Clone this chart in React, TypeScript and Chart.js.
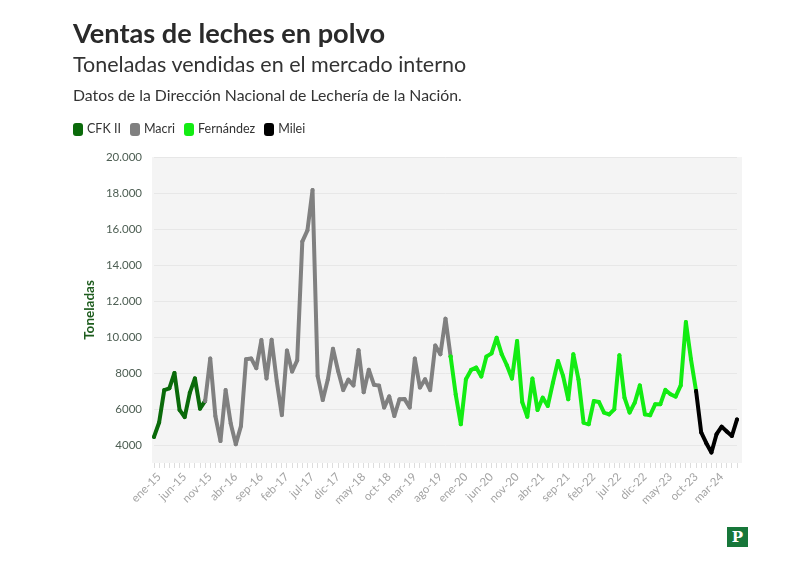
import React, { useEffect, useRef } from 'react';
import { Chart, registerables } from 'chart.js';
Chart.register(...registerables);

// ---- Datos ----
const MESES = ['ene', 'feb', 'mar', 'abr', 'may', 'jun', 'jul', 'ago', 'sep', 'oct', 'nov', 'dic'];
const ANIO_INICIO = 2015;
const N_MESES = 115; // ene-15 .. jul-24
const categorias: string[] = Array.from({ length: N_MESES }, (_, i) =>
  `${MESES[i % 12]}-${String((ANIO_INICIO + Math.floor(i / 12)) % 100)}`
);

// Toneladas vendidas por mes, por gestión
const cfkII = [4450, 5250, 7050, 7150, 8000, 5950, 5550, 6900, 7700, 6020, 6450]; // ene-15 .. nov-15
const macri = [
  8800, 5610, 4220, 7050, 5200, 4040, 5050, 8760, 8810, 8270, 9830, 7700,
  9850, 7550, 5660, 9250, 8080, 8700, 15300, 15920, 18170, 7830, 6500, 7650,
  9350, 8110, 7050, 7630, 7310, 9270, 6930, 8180, 7350, 7300, 6080, 6700,
  5610, 6540, 6550, 6080, 8800, 7190, 7650, 7050, 9530, 9040, 11020, 8920,
]; // dic-15 .. nov-19
const fernandez = [
  6800, 5150, 7650, 8170, 8300, 7800, 8910, 9090, 9960, 9040, 8430, 7690,
  9780, 6390, 5570, 7690, 5940, 6630, 6170, 7460, 8670, 7830, 6540, 9040,
  7650, 5240, 5150, 6440, 6390, 5800, 5700, 5980, 8980, 6630, 5800, 6350,
  7310, 5700, 5650, 6260, 6260, 7060, 6820, 6690, 7310, 10830, 8760, 7000,
]; // dic-19 .. nov-23
const milei = [4700, 4100, 3580, 4600, 5020, 4750, 4500, 5420]; // dic-23 .. jul-24

const gestiones = [
  { nombre: 'CFK II', color: '#0a6a0a', inicio: 0, valores: cfkII },
  { nombre: 'Macri', color: '#808080', inicio: 11, valores: macri },
  { nombre: 'Fernández', color: '#13ec13', inicio: 59, valores: fernandez },
  { nombre: 'Milei', color: '#000000', inicio: 107, valores: milei },
];

const Y_TICKS = [4000, 6000, 8000, 10000, 12000, 14000, 16000, 18000, 20000];

function construirSerie(idx: number): (number | null)[] {
  const g = gestiones[idx];
  const arr: (number | null)[] = new Array(N_MESES).fill(null);
  if (idx > 0) {
    const prev = gestiones[idx - 1];
    arr[g.inicio - 1] = prev.valores[prev.valores.length - 1];
  }
  g.valores.forEach((v, k) => (arr[g.inicio + k] = v));
  return arr;
}

function formatear(v: number): string {
  if (v >= 10000) {
    const s = String(v);
    return s.slice(0, s.length - 3) + '.' + s.slice(s.length - 3);
  }
  return String(v);
}

const fondo = {
  id: 'fondo',
  beforeDraw(chart: any) {
    const { ctx, chartArea } = chart;
    const { left, right, top, bottom } = chartArea;
    ctx.save();
    ctx.fillStyle = '#f4f4f4';
    ctx.fillRect(left - 2, top, right - left + 7, bottom - top);
    ctx.restore();
  },
};

const FONT = 'Lato, "Open Sans", sans-serif';

export default function App() {
  const ref = useRef<HTMLCanvasElement | null>(null);

  useEffect(() => {
    if (!ref.current) return;
    const chart = new Chart(ref.current, {
      type: 'line',
      data: {
        labels: categorias,
        datasets: gestiones.map((g, i) => ({
          label: g.nombre,
          data: construirSerie(i),
          borderColor: g.color,
          backgroundColor: g.color,
          borderWidth: 4,
          pointRadius: 2,
          pointBorderWidth: 0,
          pointBackgroundColor: g.color,
          tension: 0,
          spanGaps: false,
          order: gestiones.length - i,
          borderJoinStyle: 'round' as const,
          borderCapStyle: 'round' as const,
        })),
      },
      options: {
        responsive: false,
        animation: false,
        devicePixelRatio: 1,
        layout: { padding: { left: 0, right: 59, top: 157, bottom: 49 } },
        plugins: {
          legend: { display: false },
          tooltip: { enabled: false },
        },
        scales: {
          x: {
            type: 'category',
            offset: false,
            border: { display: false },
            grid: { drawOnChartArea: false, drawTicks: true, tickLength: 5, color: '#dddddd' },
            ticks: {
              autoSkip: false,
              maxRotation: 45,
              minRotation: 45,
              padding: 2,
              labelOffset: 5,
              color: '#a3a3a3',
              font: { family: FONT, size: 11.5 },
              callback: (_v: any, i: number) => (i % 5 === 0 ? categorias[i] : ''),
            },
            afterFit: (s: any) => {
              s.height = 60;
            },
          },
          y: {
            type: 'linear',
            min: 3000,
            max: 20000,
            border: { display: false },
            grid: { color: '#e7e7e7', drawTicks: false },
            afterBuildTicks: (s: any) => {
              s.ticks = Y_TICKS.map((v) => ({ value: v }));
            },
            ticks: {
              padding: 12,
              color: '#4d5e53',
              font: { family: FONT, size: 11.5 },
              callback: (v: any) => formatear(Number(v)),
            },
            title: {
              display: true,
              text: 'Toneladas',
              color: '#1d5c1d',
              font: { family: FONT, size: 13.5, weight: 'bold' },
              padding: { top: 82, bottom: 0 },
            },
            afterFit: (s: any) => {
              s.width = 154;
            },
          },
        },
      },
      plugins: [fondo],
    });
    return () => chart.destroy();
  }, []);

  const texto = (top: number, size: number, extra: React.CSSProperties = {}): React.CSSProperties => ({
    position: 'absolute',
    left: 73,
    top,
    fontSize: size,
    lineHeight: 1.2,
    whiteSpace: 'nowrap',
    color: '#333333',
    margin: 0,
    ...extra,
  });

  return (
    <div
      style={{
        position: 'fixed',
        left: 0,
        top: 0,
        width: 796,
        height: 572,
        background: '#ffffff',
        fontFamily: FONT,
        overflow: 'hidden',
      }}
    >
      <canvas ref={ref} width={796} height={572} style={{ position: 'absolute', left: 0, top: 0, width: 796, height: 572 }} />
      <div style={texto(16.5, 27.2, { fontWeight: 700, color: '#2a2a2a' })}>Ventas de leches en polvo</div>
      <div style={texto(52.1, 21.5)}>Toneladas vendidas en el mercado interno</div>
      <div style={texto(86.1, 15.8)}>Datos de la Dirección Nacional de Lechería de la Nación.</div>
      <div style={{ position: 'absolute', left: 73, top: 121, display: 'flex', alignItems: 'center', fontSize: 12.5, color: '#333', lineHeight: '16px' }}>
        {gestiones.map((g) => (
          <div key={g.nombre} style={{ display: 'flex', alignItems: 'center', marginRight: 9 }}>
            <span style={{ display: 'inline-block', width: 10, height: 13, borderRadius: 3, background: g.color, marginRight: 4 }} />
            <span>{g.nombre}</span>
          </div>
        ))}
      </div>
      <div
        style={{
          position: 'absolute',
          left: 727,
          top: 527,
          width: 21,
          height: 20,
          background: '#17773a',
          color: '#ffffff',
          fontFamily: '"DejaVu Serif", "Liberation Serif", serif',
          fontWeight: 700,
          fontSize: 15,
          lineHeight: '20px',
          textAlign: 'center',
        }}
      >
        P
      </div>
    </div>
  );
}
